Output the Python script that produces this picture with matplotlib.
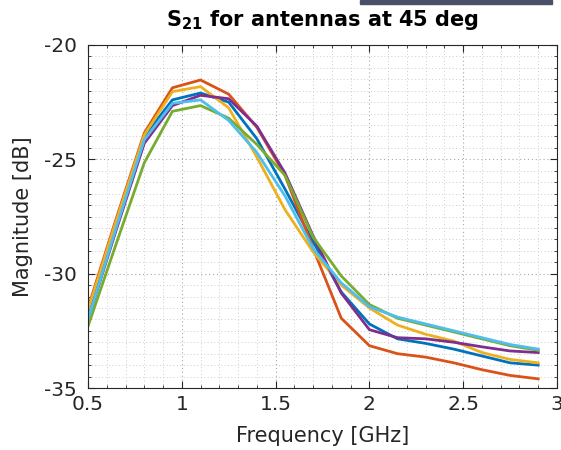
import numpy as np
import matplotlib.pyplot as plt
from matplotlib.ticker import MultipleLocator
from matplotlib.patches import Rectangle

plt.rcParams['font.family'] = 'DejaVu Sans'
plt.rcParams['mathtext.default'] = 'bf'
plt.rcParams['axes.unicode_minus'] = False

freq = [0.5, 0.65, 0.8, 0.95, 1.1, 1.25, 1.4, 1.55, 1.7, 1.85, 2.0, 2.15, 2.3, 2.45, 2.6, 2.75, 2.9]

s21_blue = [-31.85, -27.9, -24.0, -22.4, -22.1, -22.5, -24.1, -26.3, -28.6, -30.8, -32.2, -32.85, -33.05, -33.3, -33.6, -33.9, -34.0]
s21_orange = [-31.5, -27.6, -23.85, -21.87, -21.53, -22.15, -23.6, -25.7, -28.9, -31.95, -33.15, -33.5, -33.65, -33.9, -34.2, -34.45, -34.6]
s21_yellow = [-31.6, -27.7, -23.94, -22.04, -21.82, -22.75, -24.9, -27.2, -29.05, -30.5, -31.5, -32.25, -32.65, -32.95, -33.45, -33.75, -33.9]
s21_purple = [-32.0, -28.1, -24.3, -22.65, -22.2, -22.35, -23.55, -25.6, -28.35, -30.85, -32.45, -32.8, -32.85, -33.0, -33.2, -33.38, -33.45]
s21_green = [-32.3, -28.7, -25.15, -22.9, -22.65, -23.2, -24.35, -25.7, -28.4, -30.1, -31.35, -31.95, -32.25, -32.55, -32.85, -33.15, -33.35]
s21_ltblue = [-32.0, -28.0, -24.15, -22.55, -22.4, -23.3, -24.7, -26.6, -28.9, -30.4, -31.45, -31.9, -32.2, -32.5, -32.8, -33.1, -33.3]

series = [s21_blue, s21_orange, s21_yellow, s21_purple, s21_green, s21_ltblue]
colors = ['#0072BD', '#D95319', '#EDB120', '#7E2F8E', '#77AC30', '#4DBEEE']

fig = plt.figure(figsize=(5.61, 4.5), dpi=100)
ax = fig.add_axes([88/561, 1 - 388/450, (557-88)/561, (388-45)/450])

for s, c in zip(series, colors):
    ax.plot(freq, s, color=c, lw=2)

ax.set_xlim(0.5, 3)
ax.set_ylim(-35, -20)
ax.xaxis.set_major_locator(MultipleLocator(0.5))
ax.xaxis.set_minor_locator(MultipleLocator(0.1))
ax.yaxis.set_major_locator(MultipleLocator(5))
ax.yaxis.set_minor_locator(MultipleLocator(0.5))
ax.xaxis.set_major_formatter(plt.FuncFormatter(lambda v, p: f'{v:g}'))

ax.grid(True, which='major', ls=(0, (1, 2.5)), color='#a8a8a8', lw=0.8)
ax.grid(True, which='minor', ls=(0, (1, 2.5)), color='#cccccc', lw=0.7)
ax.set_axisbelow(True)

ax.tick_params(which='both', direction='in', top=True, right=True, colors='#262626', labelsize=14.5)
ax.tick_params(axis='x', pad=5)
ax.tick_params(axis='y', pad=8)
ax.tick_params(which='major', length=5)
ax.tick_params(which='minor', length=2)
for sp in ax.spines.values():
    sp.set_color('#262626')
    sp.set_linewidth(0.8)

ax.set_xlabel('Frequency [GHz]', fontsize=15, color='#262626', labelpad=9)
ax.set_ylabel('Magnitude [dB]', fontsize=15, color='#262626', labelpad=8)
ax.set_title('S$_{21}$ for antennas at 45 deg', fontsize=15, fontweight='bold', pad=14)

fig.patches.append(Rectangle((360/561, 1 - 4/450), (552-360)/561, 4/450,
                             transform=fig.transFigure, color='#4b5068', zorder=10))

fig.savefig('out.png', dpi=100)
